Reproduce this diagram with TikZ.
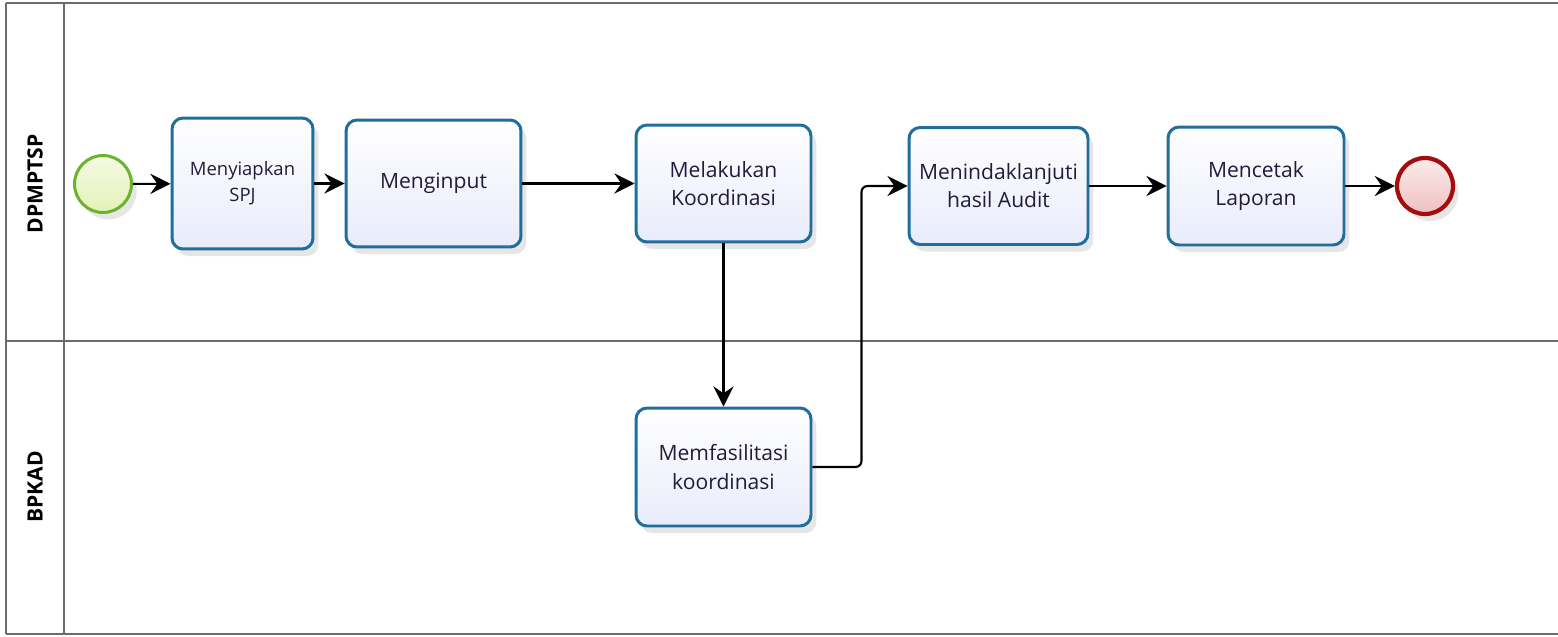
\documentclass[tikz,border=0pt]{standalone}
\usepackage{fontspec}
\setmainfont{Open Sans}
\usetikzlibrary{positioning,arrows.meta,shadows}

\definecolor{taskblue}{HTML}{1F6E9C}
\definecolor{taskfill}{HTML}{E8EBFB}
\definecolor{startgreen}{HTML}{6CB22C}
\definecolor{startfill}{HTML}{E4F2B8}
\definecolor{endred}{HTML}{A30D0D}
\definecolor{endfill}{HTML}{EFC0C0}
\definecolor{lanegray}{HTML}{6B6B6B}
\definecolor{textdark}{HTML}{241B3A}

\tikzset{
  task/.style={draw=taskblue, line width=1.7pt, rounded corners=0.22cm,
    top color=white, bottom color=taskfill, align=center, text=textdark,
    font=\fontsize{12}{16}\selectfont,
    drop shadow={opacity=0.2, shadow xshift=3pt, shadow yshift=-4pt}},
  flow/.style={-{Stealth[length=11.5pt,width=11.5pt,inset=4pt]}, line width=1.2pt},
  lane/.style={draw=lanegray, line width=1.2pt},
  lanelabel/.style={rotate=90, font=\bfseries\fontsize{12}{14}\selectfont}
}

\begin{document}
\begin{tikzpicture}[x=0.02cm, y=-0.02cm]
            \useasboundingbox (0,0) rectangle (1558,636);
            % pool and lanes
            \draw[lane] (6,3) -- (1558,3);
            \draw[lane] (6,3) -- (6,634);
            \draw[lane] (64,3) -- (64,634);
            \draw[lane] (6,341) -- (1558,341);
            \draw[lane] (6,634) -- (1558,634);
            \node[lanelabel] (dpm) at (35,184) {DPMPTSP};
            \node[lanelabel] (bpkad) at (35,487) {BPKAD};
            % events
            \node[circle, draw=startgreen, line width=1.7pt, minimum size=1.14cm, inner sep=0pt,
                  top color=startfill!40, bottom color=startfill,
                  drop shadow={opacity=0.2, shadow xshift=3pt, shadow yshift=-4pt}] (start) at (103,184) {};
            \node[circle, draw=endred, line width=2.4pt, minimum size=1.12cm, inner sep=0pt,
                  top color=endfill!30, bottom color=endfill,
                  drop shadow={opacity=0.2, shadow xshift=3pt, shadow yshift=-4pt}] (finish) at (1425,186) {};
            % tasks
            \node[task, minimum width=2.82cm, minimum height=2.62cm, font=\fontsize{10.5}{15}\selectfont] (spj) at (242.5,183.5) {Menyiapkan\\SPJ};
            \node[task, minimum width=3.5cm, minimum height=2.54cm] (input) at (433.5,183.5) {Menginput};
            \node[task, minimum width=3.5cm, minimum height=2.34cm] (koord) at (723.5,183.5) {Melakukan\\Koordinasi};
            \node[task, minimum width=3.58cm, minimum height=2.34cm] (audit) at (998.5,186) {Menindaklanjuti\\hasil Audit};
            \node[task, minimum width=3.52cm, minimum height=2.36cm] (cetak) at (1256,186) {Mencetak\\Laporan};
            \node[task, minimum width=3.5cm, minimum height=2.36cm] (fasil) at (723.5,467) {Memfasilitasi\\koordinasi};
            % flows
            \draw[flow] (start) -- (spj);
            \draw[flow] (spj) -- (input);
            \draw[flow] (input) -- (koord);
            \draw[flow] (koord) -- (fasil);
            \draw[flow, rounded corners=0.12cm] (fasil.east) -- ++(49,0) |- (audit.west);
            \draw[flow] (audit) -- (cetak);
            \draw[flow] (cetak) -- (finish);
        \end{tikzpicture}
\end{document}
